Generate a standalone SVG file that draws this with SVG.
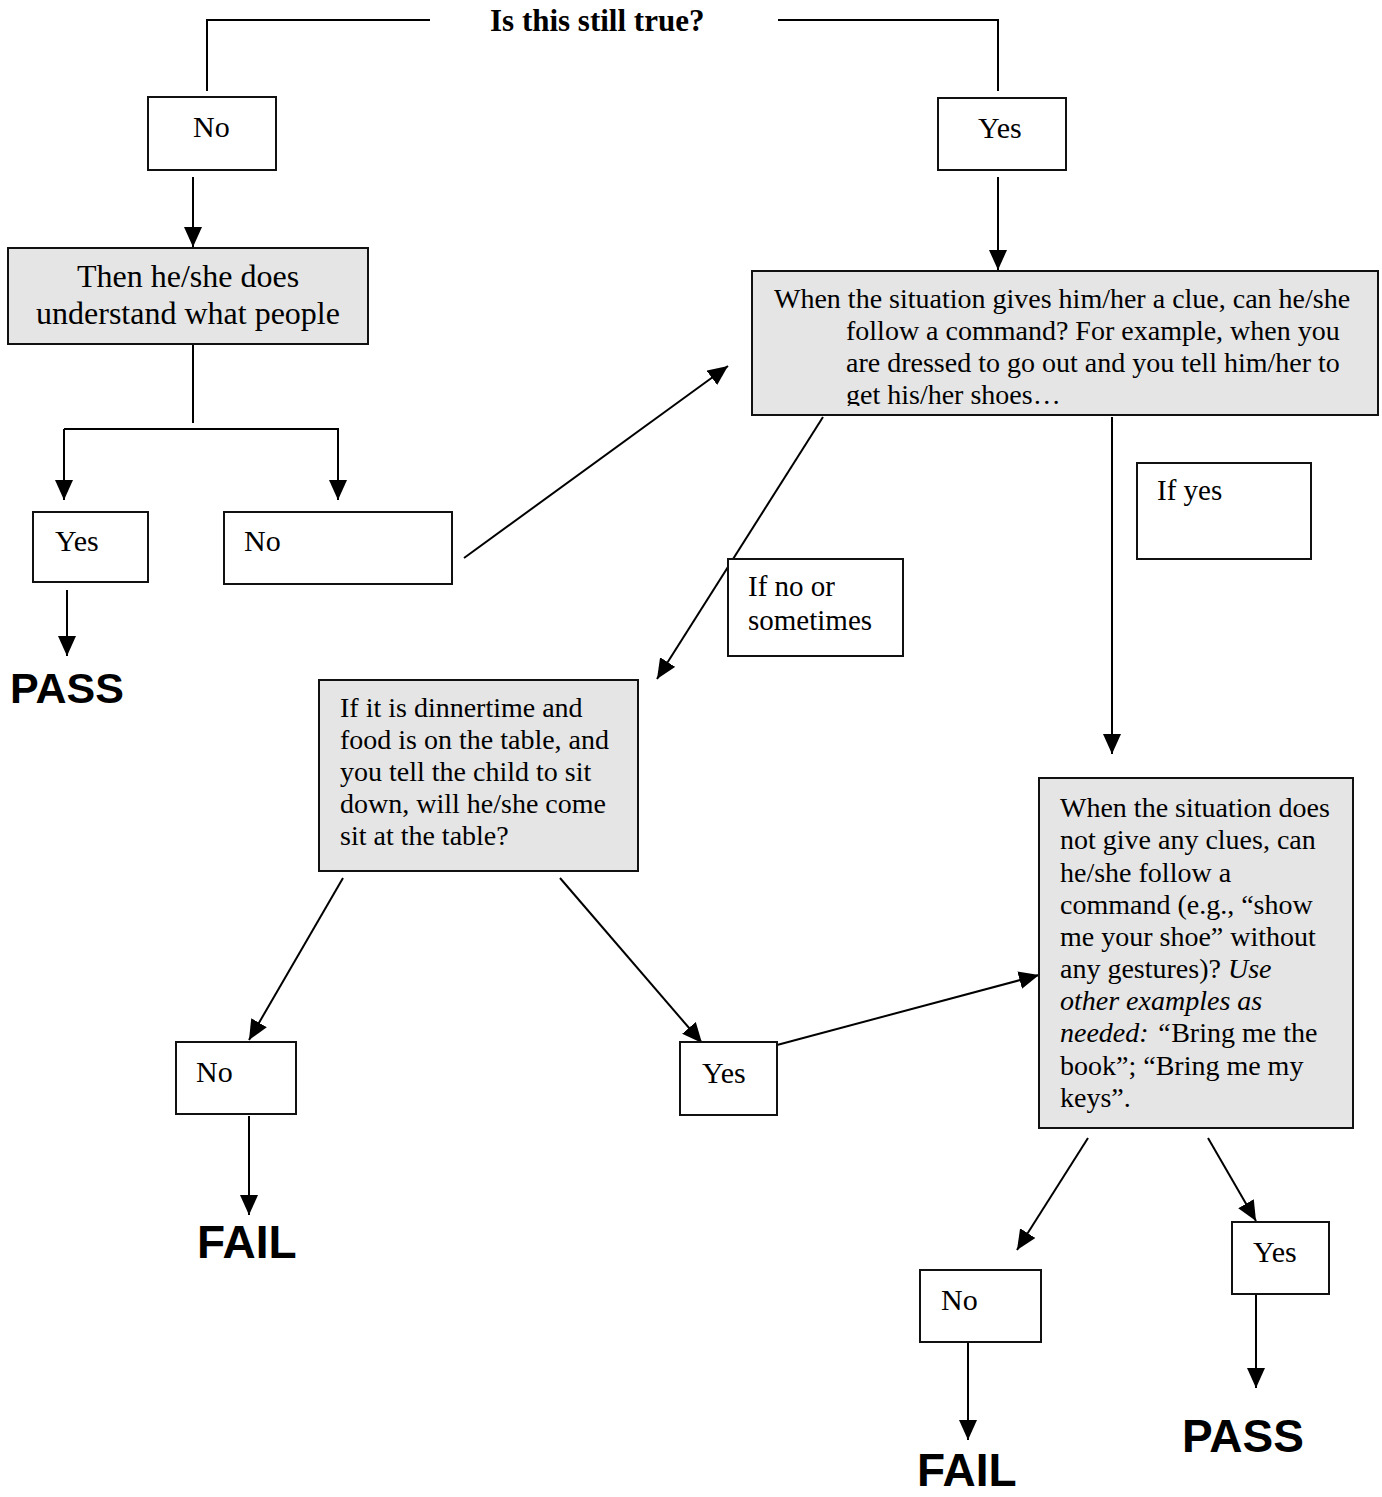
<svg xmlns="http://www.w3.org/2000/svg" width="1382" height="1497" viewBox="0 0 1382 1497">
<style>
  .bg { fill: #ffffff; }
  .box { fill: #ffffff; stroke: #111111; stroke-width: 2; }
  .gbox { fill: #e5e5e5; stroke: #111111; stroke-width: 2; }
  .ln { fill: none; stroke: #000000; stroke-width: 2; }
  .t { font-family: "Liberation Serif", "Times New Roman", serif; font-size: 28px; fill: #000000; }
  .lab { font-family: "Liberation Serif", "Times New Roman", serif; font-size: 30px; fill: #000000; }
  .title { font-family: "Liberation Serif", "Times New Roman", serif; font-size: 31px; font-weight: bold; fill: #000000; }
  .big { font-family: "Liberation Sans", Arial, sans-serif; font-size: 46px; font-weight: bold; fill: #000000; }
  .it { font-style: italic; }
</style>
<defs>
  <marker id="arr" viewBox="0 0 20 18" refX="20" refY="9" markerWidth="20" markerHeight="18" markerUnits="userSpaceOnUse" orient="auto">
    <path d="M0,0 L20,9 L0,18 z" fill="#000000"/>
  </marker>
  <clipPath id="clipTop">
    <rect x="752" y="271" width="626" height="135"/>
  </clipPath>
</defs>
<rect class="bg" x="0" y="0" width="1382" height="1497"/>

<g id="connectors">
  <polyline class="ln" points="430,20 207,20 207,91"/>
  <polyline class="ln" points="778,20 998,20 998,91"/>
  <line class="ln" x1="193" y1="177" x2="193" y2="247" marker-end="url(#arr)"/>
  <line class="ln" x1="998" y1="177" x2="998" y2="270" marker-end="url(#arr)"/>
  <line class="ln" x1="193" y1="344" x2="193" y2="423"/>
  <polyline class="ln" points="64,429 64,500" marker-end="url(#arr)"/>
  <polyline class="ln" points="64,429 338,429 338,500" marker-end="url(#arr)"/>
  <line class="ln" x1="67" y1="590" x2="67" y2="656" marker-end="url(#arr)"/>
  <line class="ln" x1="464" y1="558" x2="728" y2="366" marker-end="url(#arr)"/>
  <line class="ln" x1="823" y1="417" x2="657" y2="679" marker-end="url(#arr)"/>
  <line class="ln" x1="1112" y1="417" x2="1112" y2="754" marker-end="url(#arr)"/>
  <line class="ln" x1="343" y1="878" x2="249" y2="1040" marker-end="url(#arr)"/>
  <line class="ln" x1="560" y1="878" x2="702" y2="1043" marker-end="url(#arr)"/>
  <line class="ln" x1="249" y1="1116" x2="249" y2="1215" marker-end="url(#arr)"/>
  <line class="ln" x1="777" y1="1045" x2="1039" y2="975" marker-end="url(#arr)"/>
  <line class="ln" x1="1088" y1="1138" x2="1017" y2="1250" marker-end="url(#arr)"/>
  <line class="ln" x1="1208" y1="1138" x2="1256" y2="1221" marker-end="url(#arr)"/>
  <line class="ln" x1="968" y1="1342" x2="968" y2="1440" marker-end="url(#arr)"/>
  <line class="ln" x1="1256" y1="1294" x2="1256" y2="1388" marker-end="url(#arr)"/>
</g>

<g id="title">
  <text class="title" x="490" y="31">Is this still true?</text>
</g>

<g id="no-top">
  <rect class="box" x="148" y="97" width="128" height="73"/>
  <text class="lab" x="193" y="137">No</text>
</g>

<g id="yes-top">
  <rect class="box" x="938" y="98" width="128" height="72"/>
  <text class="lab" x="978" y="138">Yes</text>
</g>

<g id="understand">
  <rect class="gbox" x="8" y="248" width="360" height="96"/>
  <text class="t" x="188" y="287" text-anchor="middle" style="font-size:32px">Then he/she does</text>
  <text class="t" x="188" y="324" text-anchor="middle" style="font-size:32px">understand what people</text>
</g>

<g id="yes-left">
  <rect class="box" x="33" y="512" width="115" height="70"/>
  <text class="lab" x="55" y="551">Yes</text>
</g>

<g id="no-left">
  <rect class="box" x="224" y="512" width="228" height="72"/>
  <text class="lab" x="244" y="551">No</text>
</g>

<g id="pass-1">
  <text class="big" x="10" y="703" style="font-size:43px">PASS</text>
</g>

<g id="clue-question">
  <rect class="gbox" x="752" y="271" width="626" height="144"/>
  <g clip-path="url(#clipTop)">
    <text class="t" x="774" y="308">When the situation gives him/her a clue, can he/she</text>
    <text class="t" x="846" y="340">follow a command? For example, when you</text>
    <text class="t" x="846" y="372">are dressed to go out and you tell him/her to</text>
    <text class="t" x="846" y="404">get his/her shoes…</text>
  </g>
</g>

<g id="if-yes">
  <rect class="box" x="1137" y="463" width="174" height="96"/>
  <text class="lab" x="1157" y="500" style="font-size:29px">If yes</text>
</g>

<g id="if-no">
  <rect class="box" x="728" y="559" width="175" height="97"/>
  <text class="lab" x="748" y="596" style="font-size:29px">If no or</text>
  <text class="lab" x="748" y="630" style="font-size:29px">sometimes</text>
</g>

<g id="dinner-question">
  <rect class="gbox" x="319" y="680" width="319" height="191"/>
  <text class="t" x="340" y="717">If it is dinnertime and</text>
  <text class="t" x="340" y="749">food is on the table, and</text>
  <text class="t" x="340" y="781">you tell the child to sit</text>
  <text class="t" x="340" y="813">down, will he/she come</text>
  <text class="t" x="340" y="845">sit at the table?</text>
</g>

<g id="no-mid">
  <rect class="box" x="176" y="1042" width="120" height="72"/>
  <text class="lab" x="196" y="1082">No</text>
</g>

<g id="yes-mid">
  <rect class="box" x="680" y="1042" width="97" height="73"/>
  <text class="lab" x="702" y="1083">Yes</text>
</g>

<g id="fail-1">
  <text class="big" x="197" y="1258">FAIL</text>
</g>

<g id="noclue-question">
  <rect class="gbox" x="1039" y="778" width="314" height="350"/>
  <text class="t" x="1060" y="817">When the situation does</text>
  <text class="t" x="1060" y="849">not give any clues, can</text>
  <text class="t" x="1060" y="882">he/she follow a</text>
  <text class="t" x="1060" y="914">command (e.g., “show</text>
  <text class="t" x="1060" y="946">me your shoe” without</text>
  <text class="t" x="1060" y="978">any gestures)? <tspan class="it">Use</tspan></text>
  <text class="t it" x="1060" y="1010">other examples as</text>
  <text class="t" x="1060" y="1042"><tspan class="it">needed: “</tspan>Bring me the</text>
  <text class="t" x="1060" y="1075">book”; “Bring me my</text>
  <text class="t" x="1060" y="1107">keys”.</text>
</g>

<g id="no-bottom">
  <rect class="box" x="920" y="1270" width="121" height="72"/>
  <text class="lab" x="941" y="1310">No</text>
</g>

<g id="yes-bottom">
  <rect class="box" x="1232" y="1222" width="97" height="72"/>
  <text class="lab" x="1253" y="1262">Yes</text>
</g>

<g id="fail-2">
  <text class="big" x="917" y="1486">FAIL</text>
</g>

<g id="pass-2">
  <text class="big" x="1182" y="1452">PASS</text>
</g>
</svg>
